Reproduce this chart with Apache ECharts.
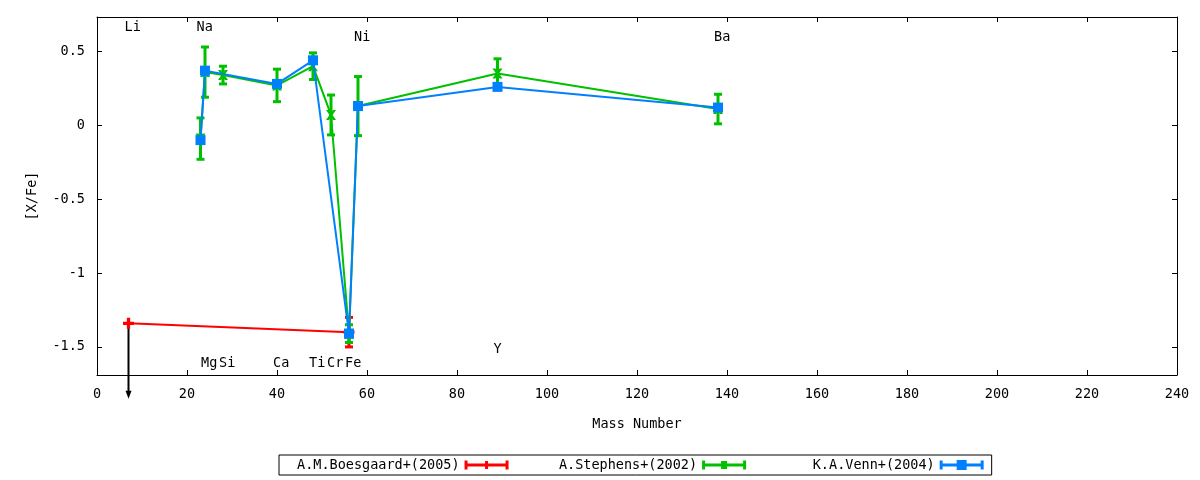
<!DOCTYPE html>
<html>
<head>
<meta charset="utf-8">
<script src="https://cdn.jsdelivr.net/npm/echarts@6/dist/echarts.min.js"></script>
<style>html,body{margin:0;background:#fff}#main{width:1200px;height:480px}</style>
</head>
<body>
<div id="main"></div>
<script>
// A.M.Boesgaard+(2005)
var boesMass = [7, 56];
var boesVal = [-1.34, -1.40];
var boesErr = [0, 0.10];

// A.Stephens+(2002)
var stepMass = [23, 24, 28, 40, 48, 52, 56, 58, 89, 138];
var stepVal = [-0.09, 0.36, 0.34, 0.27, 0.40, 0.07, -1.41, 0.13, 0.35, 0.11];
var stepErr = [0.14, 0.17, 0.06, 0.11, 0.09, 0.135, 0.06, 0.20, 0.10, 0.10];

// K.A.Venn+(2004)
var vennMass = [23, 24, 40, 48, 56, 58, 89, 138];
var vennVal = [-0.10, 0.37, 0.28, 0.44, -1.41, 0.13, 0.26, 0.12];

// Li upper limit arrow
var limitMass = [7];
var limitFrom = [-1.34];
var limitTo = [-1.85];

// element labels
var elemNames = ['Li', 'Na', 'Mg', 'Si', 'Ca', 'Ti', 'Cr', 'Fe', 'Ni', 'Y', 'Ba'];
var elemMass = [7, 23, 24, 28, 40, 48, 52, 56, 58, 89, 138];
var elemY = [0.66, 0.66, -1.615, -1.615, -1.615, -1.615, -1.615, -1.615, 0.595, -1.52, 0.595];

var yTicks = [-1.5, -1, -0.5, 0, 0.5];

var RED = '#ff0000', GREEN = '#00c000', BLUE = '#0080ff';
var FONT = '"DejaVu Sans Mono", monospace';

function pairs(xs, ys) {
	var out = [];
	for (var i = 0; i < xs.length; i++) out.push([xs[i], ys[i]]);
	return out;
}

function errData(xs, ys, es) {
	var out = [];
	for (var i = 0; i < xs.length; i++) {
		if (es[i]) out.push([xs[i], ys[i] - es[i], ys[i] + es[i]]);
	}
	return out;
}

// vertical error bar with caps
function renderErr(params, api) {
	var lo = api.coord([api.value(0), api.value(1)]);
	var hi = api.coord([api.value(0), api.value(2)]);
	var c = api.visual('color');
	var w = 4;
	var st = { stroke: c, lineWidth: 3 };
	return {
		type: 'group',
		children: [
			{ type: 'line', shape: { x1: lo[0], y1: lo[1], x2: hi[0], y2: hi[1] }, style: st },
			{ type: 'line', shape: { x1: lo[0] - w, y1: lo[1], x2: lo[0] + w, y2: lo[1] }, style: st },
			{ type: 'line', shape: { x1: hi[0] - w, y1: hi[1], x2: hi[0] + w, y2: hi[1] }, style: st }
		]
	};
}

var plusPath = 'path://M3.5,0 L6.5,0 L6.5,3.5 L10,3.5 L10,6.5 L6.5,6.5 L6.5,10 L3.5,10 L3.5,6.5 L0,6.5 L0,3.5 L3.5,3.5 Z';
var crossPath = 'path://M0,0 L3,0 L5,3 L7,0 L10,0 L6.5,5 L10,10 L7,10 L5,7 L3,10 L0,10 L3.5,5 Z';

// legend samples: bar with end caps + marker
var capBar = 'M0,3.5 L44,3.5 L44,6.5 L0,6.5 Z M0,0.5 L3,0.5 L3,9.5 L0,9.5 Z M41,0.5 L44,0.5 L44,9.5 L41,9.5 Z';
var iconRed = 'path://' + capBar + ' M20.5,1 L23.5,1 L23.5,9 L20.5,9 Z';
var iconGreen = 'path://' + capBar + ' M19,1 L25,1 L25,9 L19,9 Z';
var iconBlue = 'path://' + capBar + ' M17,0 L27,0 L27,10 L17,10 Z';

var chart = echarts.init(document.getElementById('main'));

var axisText = { fontFamily: FONT, fontSize: 13.5, color: '#000' };
var frameLine = { show: true, onZero: false, lineStyle: { color: '#000', width: 1 } };
var frameTick = { show: true, inside: true, length: 5, lineStyle: { color: '#000' } };

var option = {
	animation: false,
	backgroundColor: '#fff',
	grid: { left: 97, right: 23, top: 17, bottom: 105 },
	legend: {
		data: [
			{ name: 'A.M.Boesgaard+(2005)', icon: iconRed },
			{ name: 'A.Stephens+(2002)', icon: iconGreen },
			{ name: 'K.A.Venn+(2004)', icon: iconBlue }
		],
		// right-justify the titles in equal columns (monospace font)
		formatter: function(name) {
			var s = name;
			while (s.length < 20) s = ' ' + s;
			return s;
		},
		selectedMode: false,
		left: 279,
		top: 455,
		align: 'right',
		itemWidth: 44,
		itemHeight: 10,
		itemGap: 26,
		borderColor: '#000',
		borderWidth: 1,
		borderRadius: 0,
		padding: [3, 8, 3, 18],
		textStyle: { fontFamily: FONT, fontSize: 13.5, color: '#000' }
	},
	xAxis: [{
		type: 'value', min: 0, max: 240, interval: 20, position: 'bottom',
		name: 'Mass Number', nameLocation: 'middle', nameGap: 42,
		nameTextStyle: axisText,
		axisLine: frameLine,
		axisTick: frameTick,
		axisLabel: Object.assign({ margin: 12 }, axisText),
		splitLine: { show: false }
	}, {
		type: 'value', min: 0, max: 240, interval: 20, position: 'top',
		axisLine: frameLine,
		axisTick: frameTick,
		axisLabel: { show: false },
		splitLine: { show: false }
	}],
	yAxis: [{
		type: 'value', min: -1.69, max: 0.733, position: 'left',
		name: '[X/Fe]', nameLocation: 'middle', nameGap: 58,
		nameTextStyle: axisText,
		axisLine: frameLine,
		axisTick: Object.assign({ customValues: yTicks }, frameTick),
		axisLabel: Object.assign({ margin: 12, customValues: yTicks }, axisText),
		splitLine: { show: false }
	}, {
		type: 'value', min: -1.69, max: 0.733, position: 'right',
		axisLine: frameLine,
		axisTick: Object.assign({ customValues: yTicks }, frameTick),
		axisLabel: { show: false, customValues: yTicks },
		splitLine: { show: false }
	}],
	series: [
		// Boesgaard
		{
			name: 'A.M.Boesgaard+(2005)', type: 'custom', renderItem: renderErr,
			itemStyle: { color: RED }, encode: { x: 0, y: [1, 2] },
			data: errData(boesMass, boesVal, boesErr), z: 2
		},
		{
			name: 'A.M.Boesgaard+(2005)', type: 'line', data: pairs(boesMass, boesVal),
			symbol: plusPath, symbolSize: 11, showAllSymbol: true,
			lineStyle: { color: RED, width: 2 }, itemStyle: { color: RED }, z: 2
		},
		// Stephens
		{
			name: 'A.Stephens+(2002)', type: 'custom', renderItem: renderErr,
			itemStyle: { color: GREEN }, encode: { x: 0, y: [1, 2] },
			data: errData(stepMass, stepVal, stepErr), z: 3
		},
		{
			name: 'A.Stephens+(2002)', type: 'line', data: pairs(stepMass, stepVal),
			symbol: crossPath, symbolSize: 10, showAllSymbol: true,
			lineStyle: { color: GREEN, width: 2 }, itemStyle: { color: GREEN }, z: 3
		},
		// Venn
		{
			name: 'K.A.Venn+(2004)', type: 'line', data: pairs(vennMass, vennVal),
			symbol: 'rect', symbolSize: 10, showAllSymbol: true,
			lineStyle: { color: BLUE, width: 2 }, itemStyle: { color: BLUE }, z: 4
		},
		// Li upper limit arrow
		{
			type: 'custom', clip: false, z: 1,
			data: (function() {
				var out = [];
				for (var i = 0; i < limitMass.length; i++) out.push([limitMass[i], limitFrom[i], limitTo[i]]);
				return out;
			})(),
			encode: { x: 0, y: [1, 2] },
			renderItem: function(params, api) {
				var a = api.coord([api.value(0), api.value(1)]);
				var b = api.coord([api.value(0), api.value(2)]);
				return {
					type: 'group',
					children: [
						{ type: 'line', shape: { x1: a[0], y1: a[1], x2: b[0], y2: b[1] - 5 }, style: { stroke: '#000', lineWidth: 2 } },
						{ type: 'polygon', shape: { points: [[b[0] - 3, b[1] - 8], [b[0] + 3, b[1] - 8], [b[0], b[1]]] }, style: { fill: '#000' } }
					]
				};
			}
		},
		// element labels
		{
			type: 'custom', clip: false, z: 5,
			data: pairs(elemMass, elemY),
			renderItem: function(params, api) {
				var p = api.coord([api.value(0), api.value(1)]);
				return {
					type: 'text', x: p[0] - 4, y: p[1],
					style: {
						text: elemNames[params.dataIndex], fill: '#000',
						font: '13.5px ' + FONT, align: 'left', verticalAlign: 'middle'
					}
				};
			}
		}
	]
};

chart.setOption(option);
</script>
</body>
</html>
